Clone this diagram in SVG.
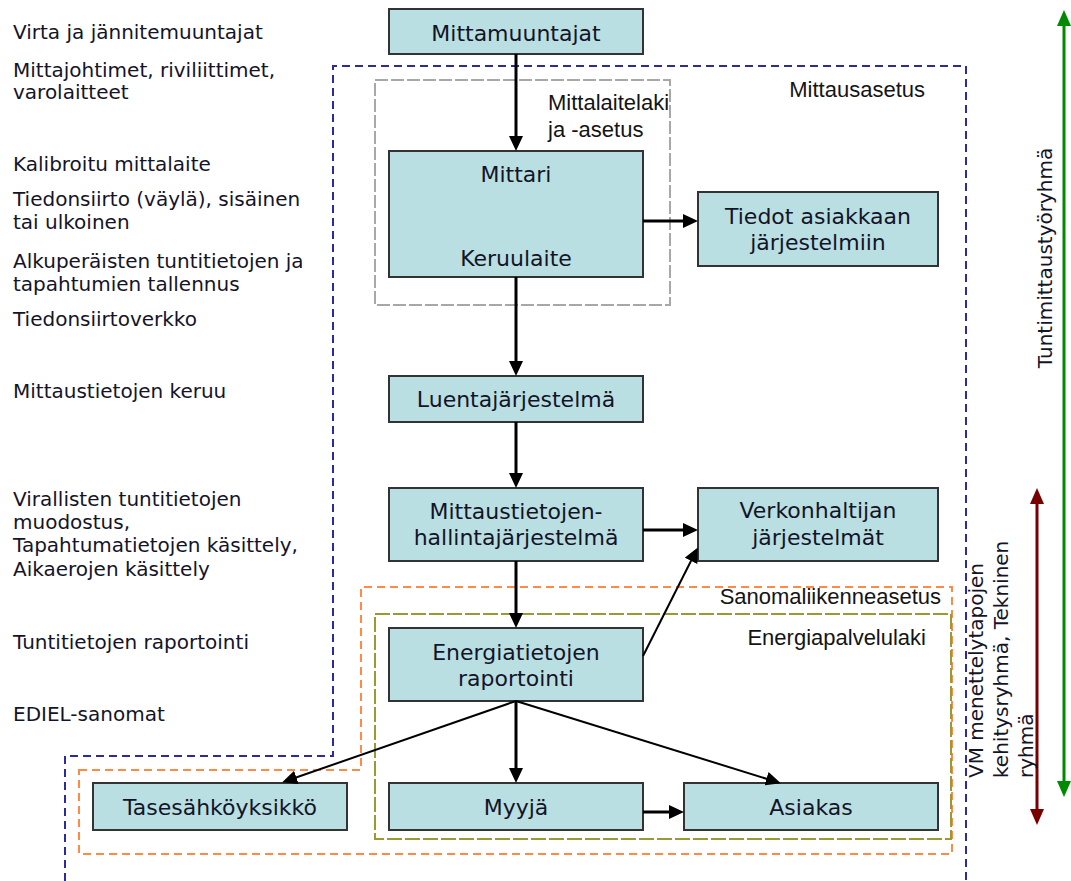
<svg xmlns="http://www.w3.org/2000/svg" width="1071" height="881" viewBox="0 0 1071 881">
<style>
.bg{fill:#ffffff}
.box{fill:#b9dfe2;stroke:#333333;stroke-width:2}
.t{font-family:"DejaVu Sans",Verdana,sans-serif;font-size:22px;fill:#141428;text-anchor:middle}
.lt{font-family:"DejaVu Sans",Verdana,sans-serif;font-size:20px;fill:#141428}
.law{font-family:"Liberation Sans",Arial,sans-serif;font-size:22px;fill:#141414}
.side{font-family:"DejaVu Sans",Verdana,sans-serif;font-size:20px;fill:#141428}
.thick{stroke:#000;stroke-width:3;fill:none}
.thin{stroke:#000;stroke-width:2;fill:none}
.blue{fill:none;stroke:#2b2b9b;stroke-width:2;stroke-dasharray:8 5}
.gray{fill:none;stroke:#a8a8a8;stroke-width:2;stroke-dasharray:13 3}
.orange{fill:none;stroke:#ff8a45;stroke-width:2;stroke-dasharray:8 5}
.olive{fill:none;stroke:#9a9a30;stroke-width:2;stroke-dasharray:15 3}
</style>
<defs>
<marker id="ah" markerWidth="15" markerHeight="14" refX="11" refY="7" orient="auto" markerUnits="userSpaceOnUse"><path d="M0,0 L15,7 L0,14 Z" fill="#000"/></marker>
<marker id="ahg" markerWidth="16" markerHeight="14" refX="12" refY="7" orient="auto-start-reverse" markerUnits="userSpaceOnUse"><path d="M0,0 L16,7 L0,14 Z" fill="#008a00"/></marker>
<marker id="ahr" markerWidth="16" markerHeight="14" refX="12" refY="7" orient="auto-start-reverse" markerUnits="userSpaceOnUse"><path d="M0,0 L16,7 L0,14 Z" fill="#7a0000"/></marker>
</defs>
<rect class="bg" x="0" y="0" width="1071" height="881"/>

<g id="regions">
<path class="blue" d="M65,881 V756 H333 V66 H966 V881"/>
<rect class="gray" x="375" y="80" width="295" height="225"/>
<path class="orange" d="M79,770 H361 V587 H952 V854 H79 Z"/>
<rect class="olive" x="375" y="614" width="576" height="225"/>
<text class="law" x="925" y="97" text-anchor="end">Mittausasetus</text>
<text class="law" x="548" y="110">Mittalaitelaki</text>
<text class="law" x="548" y="137">ja -asetus</text>
<text class="law" x="941" y="604" text-anchor="end">Sanomaliikenneasetus</text>
<text class="law" x="926" y="645" text-anchor="end">Energiapalvelulaki</text>
</g>

<g id="left-labels">
<text class="lt" x="13" y="39">Virta ja jännitemuuntajat</text>
<text class="lt" x="13" y="77">Mittajohtimet, riviliittimet,</text>
<text class="lt" x="13" y="99">varolaitteet</text>
<text class="lt" x="13" y="171">Kalibroitu mittalaite</text>
<text class="lt" x="13" y="206">Tiedonsiirto (väylä), sisäinen</text>
<text class="lt" x="13" y="229">tai ulkoinen</text>
<text class="lt" x="13" y="268">Alkuperäisten tuntitietojen ja</text>
<text class="lt" x="13" y="291">tapahtumien tallennus</text>
<text class="lt" x="13" y="326">Tiedonsiirtoverkko</text>
<text class="lt" x="13" y="398">Mittaustietojen keruu</text>
<text class="lt" x="13" y="506">Virallisten tuntitietojen</text>
<text class="lt" x="13" y="529">muodostus,</text>
<text class="lt" x="13" y="552">Tapahtumatietojen käsittely,</text>
<text class="lt" x="13" y="576">Aikaerojen käsittely</text>
<text class="lt" x="13" y="649">Tuntitietojen raportointi</text>
<text class="lt" x="13" y="721">EDIEL-sanomat</text>
</g>

<g id="mittamuuntajat">
<rect class="box" x="389" y="9" width="254" height="45"/>
<text class="t" x="516" y="41">Mittamuuntajat</text>
</g>
<g id="mittari">
<rect class="box" x="389" y="151" width="254" height="126"/>
<text class="t" x="516" y="182">Mittari</text>
<text class="t" x="516" y="266">Keruulaite</text>
</g>
<g id="tiedot">
<rect class="box" x="698" y="192" width="240" height="74"/>
<text class="t" x="818" y="224">Tiedot asiakkaan</text>
<text class="t" x="818" y="250">järjestelmiin</text>
</g>
<g id="luenta">
<rect class="box" x="389" y="376" width="254" height="46"/>
<text class="t" x="516" y="407">Luentajärjestelmä</text>
</g>
<g id="mittaustietojen">
<rect class="box" x="389" y="488" width="254" height="73"/>
<text class="t" x="516" y="519">Mittaustietojen-</text>
<text class="t" x="516" y="545">hallintajärjestelmä</text>
</g>
<g id="verkonhaltijan">
<rect class="box" x="698" y="488" width="240" height="73"/>
<text class="t" x="818" y="518">Verkonhaltijan</text>
<text class="t" x="818" y="545">järjestelmät</text>
</g>
<g id="energiatietojen">
<rect class="box" x="389" y="628" width="254" height="73"/>
<text class="t" x="516" y="660">Energiatietojen</text>
<text class="t" x="516" y="686">raportointi</text>
</g>
<g id="tasesahko">
<rect class="box" x="93" y="783" width="254" height="47"/>
<text class="t" x="220" y="815">Tasesähköyksikkö</text>
</g>
<g id="myyja">
<rect class="box" x="389" y="783" width="254" height="47"/>
<text class="t" x="516" y="815">Myyjä</text>
</g>
<g id="asiakas">
<rect class="box" x="684" y="783" width="254" height="47"/>
<text class="t" x="811" y="815">Asiakas</text>
</g>

<g id="connectors">
<line class="thick" x1="516" y1="54" x2="516" y2="147" marker-end="url(#ah)"/>
<line class="thick" x1="643" y1="221" x2="694" y2="221" marker-end="url(#ah)"/>
<line class="thick" x1="516" y1="277" x2="516" y2="372" marker-end="url(#ah)"/>
<line class="thick" x1="516" y1="422" x2="516" y2="484" marker-end="url(#ah)"/>
<line class="thick" x1="643" y1="530" x2="694" y2="530" marker-end="url(#ah)"/>
<line class="thick" x1="516" y1="561" x2="516" y2="624" marker-end="url(#ah)"/>
<line class="thin" x1="643" y1="656" x2="696" y2="551" marker-end="url(#ah)"/>
<line class="thin" x1="516" y1="701" x2="286" y2="781" marker-end="url(#ah)"/>
<line class="thick" x1="516" y1="701" x2="516" y2="779" marker-end="url(#ah)"/>
<line class="thin" x1="516" y1="701" x2="777" y2="782" marker-end="url(#ah)"/>
<line class="thick" x1="643" y1="812" x2="680" y2="812" marker-end="url(#ah)"/>
</g>

<g id="working-groups">
<line x1="1064" y1="14" x2="1064" y2="793" stroke="#008a00" stroke-width="3" marker-start="url(#ahg)" marker-end="url(#ahg)"/>
<line x1="1037" y1="492" x2="1037" y2="821" stroke="#7a0000" stroke-width="3" marker-start="url(#ahr)" marker-end="url(#ahr)"/>
<text class="side" transform="translate(1052,258) rotate(-90)" text-anchor="middle">Tuntimittaustyöryhmä</text>
<text class="side" transform="translate(983,778) rotate(-90)"><tspan x="0" y="0">VM menettelytapojen</tspan><tspan x="0" y="25">kehitysryhmä, Tekninen</tspan><tspan x="0" y="50">ryhmä</tspan></text>
</g>
</svg>
